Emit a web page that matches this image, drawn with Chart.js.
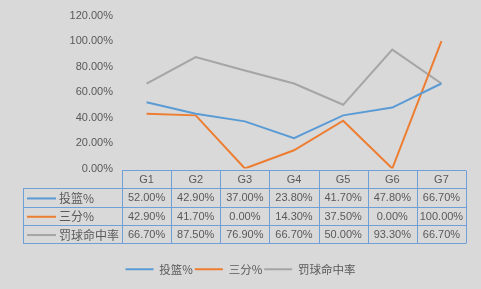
<!DOCTYPE html>
<html>
<head>
<meta charset="utf-8">
<script src="https://cdn.jsdelivr.net/npm/chart.js@4/dist/chart.umd.min.js"></script>
<style>
html,body{margin:0;padding:0;background:#d9d9d9;}
#wrap{width:481px;height:289px;}
</style>
</head>
<body>
<div id="wrap"><canvas id="c" width="481" height="289"></canvas></div>
<script>
const categories = ['G1','G2','G3','G4','G5','G6','G7'];
const seriesNames = ['投篮%','三分%','罚球命中率'];
const shooting = [52.00, 42.90, 37.00, 23.80, 41.70, 47.80, 66.70];
const threePoint = [42.90, 41.70, 0.00, 14.30, 37.50, 0.00, 100.00];
const freeThrow = [66.70, 87.50, 76.90, 66.70, 50.00, 93.30, 66.70];
const yTicks = [0, 20, 40, 60, 80, 100, 120];
const colors = ['#5b9bd5', '#ed7d31', '#a5a5a5'];

const fmt = v => v.toFixed(2) + '%';
const latin = "'Liberation Sans', Arial, sans-serif";
const cjk = "'Noto Sans CJK SC', 'Liberation Sans', sans-serif";

const tablePlugin = {
  id: 'dataTable',
  afterDraw(chart) {
    const ctx = chart.ctx;
    const x = chart.scales.x;
    const area = chart.chartArea;
    const n = categories.length;
    const colW = (area.right - area.left) / n;
    const top = area.bottom + 1.5;
    const rowH = 18.3;
    const headLeft = 23;
    const all = [shooting, threePoint, freeThrow];
    ctx.save();
    ctx.strokeStyle = '#6f9fd6';
    ctx.lineWidth = 1;
    ctx.beginPath();
    const t0 = Math.round(top) + 0.5;
    ctx.moveTo(area.left, t0); ctx.lineTo(area.right, t0);
    for (let r = 1; r <= all.length + 1; r++) {
      const y = Math.round(top + r * rowH) + 0.5;
      ctx.moveTo(headLeft, y); ctx.lineTo(area.right, y);
    }
    const bottom = Math.round(top + (all.length + 1) * rowH) + 0.5;
    for (let i = 0; i <= n; i++) {
      const xx = Math.round(x.getPixelForValue(0) - colW / 2 + i * colW) + 0.5;
      ctx.moveTo(xx, t0); ctx.lineTo(xx, bottom);
    }
    ctx.moveTo(headLeft + 0.5, Math.round(top + rowH) + 0.5);
    ctx.lineTo(headLeft + 0.5, bottom);
    ctx.stroke();

    ctx.fillStyle = '#595959';
    ctx.textAlign = 'center';
    ctx.textBaseline = 'middle';
    ctx.font = '11px ' + latin;
    categories.forEach((c, i) => {
      ctx.fillText(c, x.getPixelForValue(i), top + rowH / 2 + 1);
    });
    all.forEach((arr, r) => {
      const cy = top + (r + 1) * rowH + rowH / 2 + 1;
      arr.forEach((v, i) => {
        ctx.fillText(fmt(v), x.getPixelForValue(i), cy);
      });
      ctx.strokeStyle = colors[r];
      ctx.lineWidth = 2;
      ctx.beginPath();
      ctx.moveTo(27, cy); ctx.lineTo(56, cy);
      ctx.stroke();
      ctx.textAlign = 'left';
      ctx.font = '12px ' + cjk;
      ctx.fillText(seriesNames[r], 59, cy);
      ctx.textAlign = 'center';
      ctx.font = '11px ' + latin;
    });
    ctx.restore();
  }
};

const bgPlugin = {
  id: 'bg',
  beforeDraw(chart) {
    const ctx = chart.ctx;
    ctx.save();
    ctx.fillStyle = '#d9d9d9';
    ctx.fillRect(0, 0, chart.width, chart.height);
    ctx.restore();
  }
};

new Chart(document.getElementById('c'), {
  type: 'line',
  data: {
    labels: categories,
    datasets: [shooting, threePoint, freeThrow].map((d, i) => ({
      label: seriesNames[i],
      data: d,
      borderColor: colors[i],
      backgroundColor: colors[i],
      borderWidth: 2,
      pointRadius: 0,
      tension: 0,
      fill: false
    }))
  },
  options: {
    responsive: false,
    animation: false,
    layout: { padding: { left: 0, right: 0, top: 14, bottom: 4 } },
    scales: {
      x: {
        offset: true,
        grid: { display: false, drawTicks: false },
        border: { display: false },
        ticks: { display: false },
        afterFit(s) { s.height = 93; }
      },
      y: {
        min: 0, max: 120,
        afterBuildTicks(s) { s.ticks = yTicks.map(v => ({ value: v })); },
        grid: { display: false, drawTicks: false },
        border: { display: false },
        ticks: {
          padding: 9,
          color: '#595959',
          font: { family: latin, size: 11 },
          callback: v => fmt(v)
        },
        afterFit(s) { s.width = 122; }
      },
      yRight: {
        position: 'right',
        display: true,
        min: 0, max: 120,
        grid: { display: false, drawTicks: false },
        border: { display: false },
        ticks: { display: false },
        afterFit(s) { s.width = 15; }
      }
    },
    plugins: {
      legend: {
        position: 'bottom',
        labels: {
          boxWidth: 28,
          boxHeight: 2,
          padding: 2,
          color: '#595959',
          font: { family: cjk, size: 11.5 },
          generateLabels(chart) {
            return chart.data.datasets.map((d, i) => ({
              text: d.label,
              fillStyle: d.borderColor,
              strokeStyle: d.borderColor,
              lineWidth: 0,
              fontColor: '#595959',
              datasetIndex: i
            }));
          }
        }
      },
      tooltip: { enabled: false }
    }
  },
  plugins: [bgPlugin, tablePlugin]
});
</script>
</body>
</html>
